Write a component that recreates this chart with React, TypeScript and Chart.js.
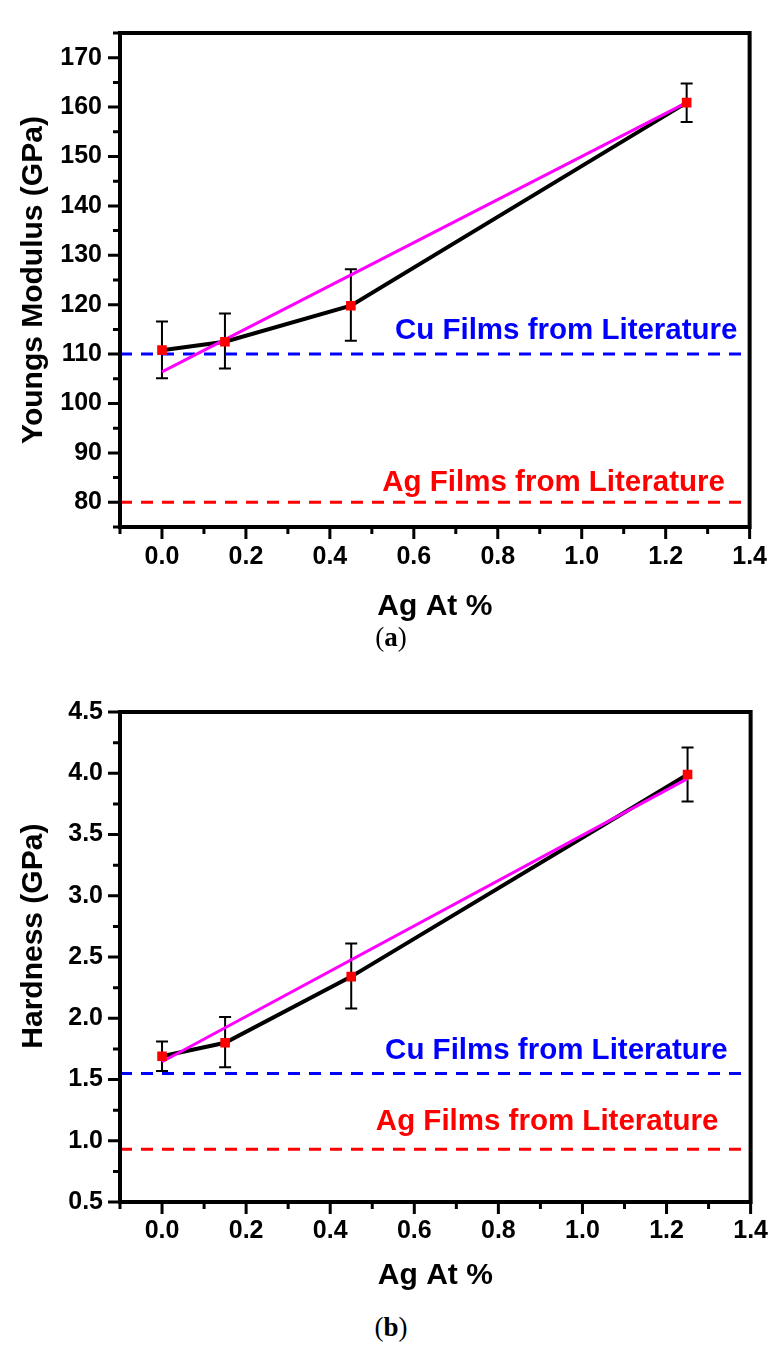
import React, { useEffect, useRef } from 'react';
import { Chart, registerables } from 'chart.js';

Chart.register(...registerables);

// ---------- data ----------
const agAt = [0, 0.15, 0.45, 1.25];

const youngs = [110.8, 112.5, 119.8, 160.9];
const youngsErrHigh = [116.6, 118.2, 127.2, 164.8];
const youngsErrLow = [105.1, 107.1, 112.7, 157.0];
const youngsFitX = [0, 1.25];
const youngsFitY = [106.4, 160.9];
const youngsCuLit = 110;
const youngsAgLit = 80;

const hardness = [1.69, 1.8, 2.34, 3.99];
const hardnessErrHigh = [1.81, 2.01, 2.61, 4.21];
const hardnessErrLow = [1.57, 1.6, 2.08, 3.77];
const hardnessFitX = [0, 1.25];
const hardnessFitY = [1.645, 3.956];
const hardnessCuLit = 1.55;
const hardnessAgLit = 0.93;

const refLineX = [-0.1, 1.4];

const cuText = 'Cu Films from Literature';
const agText = 'Ag Films from Literature';

const FONT = '"Liberation Sans", Arial, Helvetica, sans-serif';

const decorPlugin = {
  id: 'decor',
  beforeDatasetsDraw(chart: any, _args: any, opts: any) {
    const { ctx } = chart;
    const xs = chart.scales.x;
    const ys = chart.scales.y;
    ctx.save();
    ctx.strokeStyle = '#000';
    ctx.lineWidth = 2;
    opts.x.forEach((xv: number, i: number) => {
      const px = xs.getPixelForValue(xv);
      const hi = ys.getPixelForValue(opts.hi[i]);
      const lo = ys.getPixelForValue(opts.lo[i]);
      ctx.beginPath();
      ctx.moveTo(px, hi);
      ctx.lineTo(px, lo);
      ctx.moveTo(px - 6, hi);
      ctx.lineTo(px + 6, hi);
      ctx.moveTo(px - 6, lo);
      ctx.lineTo(px + 6, lo);
      ctx.stroke();
    });
    ctx.restore();
  },
  afterDraw(chart: any, _args: any, opts: any) {
    const { ctx, chartArea } = chart;
    const xs = chart.scales.x;
    const ys = chart.scales.y;
    ctx.save();
    // annotations
    ctx.font = 'bold 29.5px ' + FONT;
    ctx.textAlign = 'center';
    ctx.textBaseline = 'alphabetic';
    opts.notes.forEach((n: any) => {
      ctx.fillStyle = n.color;
      ctx.fillText(n.text, xs.getPixelForValue(n.x), ys.getPixelForValue(n.y));
    });
    // ticks
    ctx.strokeStyle = '#000';
    ctx.lineWidth = 3;
    ctx.beginPath();
    xs.ticks.forEach((t: any) => {
      const px = xs.getPixelForValue(t.value);
      const len = t.label !== '' ? 12 : 7;
      ctx.moveTo(px, chartArea.bottom);
      ctx.lineTo(px, chartArea.bottom + len);
    });
    ys.ticks.forEach((t: any) => {
      const py = ys.getPixelForValue(t.value);
      const len = t.label !== '' ? 12 : 7;
      ctx.moveTo(chartArea.left, py);
      ctx.lineTo(chartArea.left - len, py);
    });
    ctx.stroke();
    // frame
    ctx.lineWidth = 4;
    ctx.strokeRect(chartArea.left, chartArea.top, chartArea.right - chartArea.left, chartArea.bottom - chartArea.top);
    ctx.restore();
  },
};

function pts(xs: number[], ys: number[]) {
  return xs.map((x, i) => ({ x, y: ys[i] }));
}

type Panel = {
  top: number;
  height: number;
  y: number[];
  hi: number[];
  lo: number[];
  fitX: number[];
  fitY: number[];
  cu: number;
  ag: number;
  ymin: number;
  ymax: number;
  ystep: number;
  ylabel: (v: number) => string;
  ytitle: string;
  pad: { top: number; right: number };
  xAxisH: number;
  xTickPad: number;
  xTitlePad: number;
  yTickPad: number;
  yTitlePad: number;
  notes: any[];
};

function makeConfig(p: Panel): any {
  return {
    type: 'scatter',
    data: {
      datasets: [
        {
          data: pts(agAt, p.y),
          showLine: false,
          pointStyle: 'rect',
          pointRadius: 6.8,
          pointBackgroundColor: '#ff0000',
          pointBorderWidth: 0,
          order: 0,
        },
        {
          data: pts(p.fitX, p.fitY),
          showLine: true,
          borderColor: '#ff00ff',
          borderWidth: 3,
          pointRadius: 0,
          order: 1,
        },
        {
          data: pts(agAt, p.y),
          showLine: true,
          borderColor: '#000000',
          borderWidth: 4,
          pointRadius: 0,
          order: 2,
        },
        {
          data: pts(refLineX, [p.cu, p.cu]),
          showLine: true,
          borderColor: '#0000ff',
          borderWidth: 3,
          borderDash: [12, 9],
          pointRadius: 0,
          order: 3,
        },
        {
          data: pts(refLineX, [p.ag, p.ag]),
          showLine: true,
          borderColor: '#ff0000',
          borderWidth: 3,
          borderDash: [12, 9],
          pointRadius: 0,
          order: 3,
        },
      ],
    },
    options: {
      responsive: false,
      maintainAspectRatio: false,
      animation: false,
      devicePixelRatio: 1,
      layout: { padding: { left: 0, top: p.pad.top, right: p.pad.right, bottom: 0 } },
      plugins: {
        legend: { display: false },
        tooltip: { enabled: false },
        decor: { x: agAt, hi: p.hi, lo: p.lo, notes: p.notes },
      },
      scales: {
        x: {
          type: 'linear',
          min: -0.1,
          max: 1.4,
          grid: { display: false, drawTicks: false },
          border: { display: false },
          ticks: {
            stepSize: 0.1,
            autoSkip: false,
            maxRotation: 0,
            minRotation: 0,
            padding: p.xTickPad,
            color: '#000',
            font: { family: FONT, size: 25, weight: 'bold' },
            callback: (v: any) => {
              const k = Math.round(Number(v) * 10);
              return k % 2 === 0 ? (k / 10).toFixed(1) : '';
            },
          },
          title: {
            display: true,
            text: 'Ag At %',
            color: '#000',
            font: { family: FONT, size: 30, weight: 'bold' },
            padding: { top: 0, bottom: p.xTitlePad },
          },
          afterFit: (s: any) => {
            s.height = p.xAxisH;
          },
        },
        y: {
          type: 'linear',
          min: p.ymin,
          max: p.ymax,
          grid: { display: false, drawTicks: false },
          border: { display: false },
          ticks: {
            stepSize: p.ystep,
            autoSkip: false,
            padding: p.yTickPad,
            color: '#000',
            font: { family: FONT, size: 25, weight: 'bold' },
            callback: (v: any) => p.ylabel(Number(v)),
          },
          title: {
            display: true,
            text: p.ytitle,
            color: '#000',
            font: { family: FONT, size: 30, weight: 'bold' },
            padding: { top: p.yTitlePad, bottom: 0 },
          },
          afterFit: (s: any) => {
            s.width = 120;
          },
        },
      },
    },
    plugins: [decorPlugin],
  };
}

const panelA: Panel = {
  top: 0,
  height: 630,
  y: youngs,
  hi: youngsErrHigh,
  lo: youngsErrLow,
  fitX: youngsFitX,
  fitY: youngsFitY,
  cu: youngsCuLit,
  ag: youngsAgLit,
  ymin: 75,
  ymax: 175,
  ystep: 5,
  ylabel: (v) => (Math.round(v) % 10 === 0 ? String(Math.round(v)) : ''),
  ytitle: 'Youngs Modulus (GPa)',
  pad: { top: 15, right: 24 },
  xAxisH: 103,
  xTickPad: 15,
  xTitlePad: 5,
  yTickPad: 18,
  yTitlePad: 16,
  notes: [
    { text: cuText, color: '#0000ff', x: 0.963, y: 113.1 },
    { text: agText, color: '#ff0000', x: 0.933, y: 82.2 },
  ],
};

const panelB: Panel = {
  top: 680,
  height: 625,
  y: hardness,
  hi: hardnessErrHigh,
  lo: hardnessErrLow,
  fitX: hardnessFitX,
  fitY: hardnessFitY,
  cu: hardnessCuLit,
  ag: hardnessAgLit,
  ymin: 0.5,
  ymax: 4.5,
  ystep: 0.25,
  ylabel: (v) => (Math.round(v * 4) % 2 === 0 ? v.toFixed(1) : ''),
  ytitle: '     Hardness (GPa)',
  pad: { top: 20, right: 30 },
  xAxisH: 103,
  xTickPad: 14,
  xTitlePad: 11,
  yTickPad: 17,
  yTitlePad: 16,
  notes: [
    { text: cuText, color: '#0000ff', x: 0.938, y: 1.671 },
    { text: agText, color: '#ff0000', x: 0.916, y: 1.09 },
  ],
};

function ChartPanel({ panel }: { panel: Panel }) {
  const ref = useRef<HTMLCanvasElement>(null);
  useEffect(() => {
    const chart = new Chart(ref.current as HTMLCanvasElement, makeConfig(panel));
    return () => chart.destroy();
  }, []);
  return (
    <canvas
      ref={ref}
      width={782}
      height={panel.height}
      style={{ position: 'absolute', left: 0, top: panel.top, width: 782, height: panel.height, display: 'block' }}
    />
  );
}

const captionStyle: React.CSSProperties = {
  position: 'absolute',
  left: 0,
  width: 782,
  textAlign: 'center',
  fontFamily: '"Liberation Serif", "Times New Roman", serif',
  fontSize: 27,
  lineHeight: '27px',
  color: '#000',
};

export default function App() {
  return (
    <div style={{ position: 'absolute', left: 0, top: 0, width: 782, height: 1351, background: '#fff', overflow: 'hidden' }}>
      <ChartPanel panel={panelA} />
      <div style={{ ...captionStyle, top: 624 }}>
        (<b>a</b>)
      </div>
      <ChartPanel panel={panelB} />
      <div style={{ ...captionStyle, top: 1314 }}>
        (<b>b</b>)
      </div>
    </div>
  );
}
